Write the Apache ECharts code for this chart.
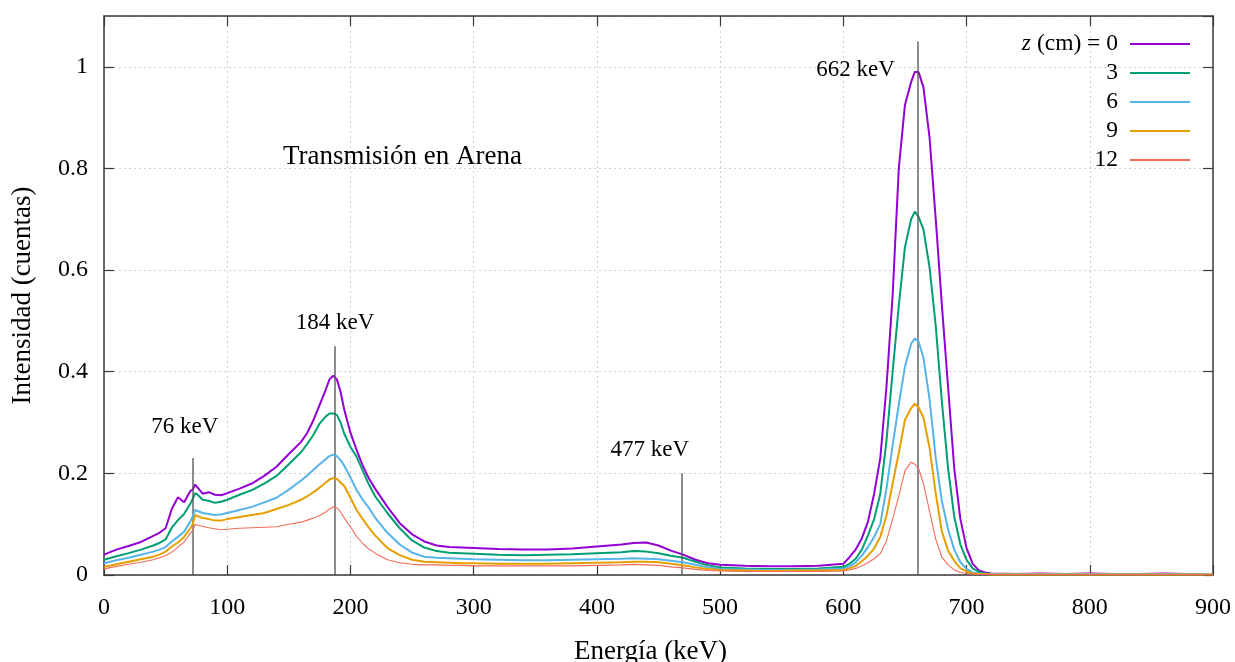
<!DOCTYPE html>
<html>
<head>
<meta charset="utf-8">
<script src="https://cdn.jsdelivr.net/npm/echarts@6/dist/echarts.min.js"></script>
<style>
html,body{margin:0;padding:0;background:#fff;}
#chart{width:1235px;height:662px;}
</style>
</head>
<body>
<div id="chart"></div>
<script>
// ---- data ----
const energies = [0,10,20,30,40,45,50,55,60,65,70,72,74,76,80,85,90,95,100,110,120,130,140,150,160,165,170,175,180,183,186,189,192,195,200,205,210,215,220,230,240,250,260,270,280,290,300,320,340,360,380,400,420,430,440,450,460,470,480,490,500,520,540,560,580,600,605,610,615,620,625,630,635,640,645,650,655,658,661,665,670,675,680,685,690,695,700,705,710,715,720,740,760,780,800,820,840,860,880,900];

const zValues = ['0','3','6','9','12'];

const z0 = [0.040,0.050,0.057,0.065,0.077,0.083,0.092,0.130,0.153,0.143,0.165,0.168,0.178,0.172,0.160,0.163,0.158,0.157,0.161,0.170,0.180,0.195,0.213,0.238,0.262,0.280,0.305,0.335,0.365,0.385,0.392,0.385,0.360,0.325,0.280,0.246,0.215,0.190,0.170,0.134,0.102,0.080,0.066,0.058,0.055,0.054,0.053,0.051,0.050,0.050,0.052,0.056,0.060,0.063,0.064,0.058,0.048,0.040,0.030,0.023,0.020,0.018,0.017,0.017,0.018,0.022,0.035,0.050,0.072,0.105,0.160,0.230,0.370,0.550,0.800,0.925,0.970,0.990,0.990,0.960,0.860,0.700,0.530,0.370,0.210,0.110,0.053,0.022,0.009,0.005,0.003,0.002,0.003,0.002,0.003,0.002,0.002,0.003,0.002,0.002];

const z3 = [0.030,0.037,0.043,0.050,0.058,0.063,0.070,0.093,0.108,0.120,0.140,0.150,0.161,0.158,0.148,0.146,0.142,0.144,0.148,0.158,0.167,0.180,0.195,0.218,0.242,0.258,0.276,0.298,0.312,0.318,0.318,0.315,0.300,0.278,0.252,0.233,0.205,0.178,0.155,0.122,0.092,0.068,0.054,0.047,0.044,0.043,0.042,0.040,0.039,0.040,0.041,0.043,0.045,0.047,0.046,0.043,0.038,0.034,0.026,0.019,0.015,0.013,0.012,0.012,0.013,0.016,0.022,0.032,0.050,0.078,0.110,0.160,0.264,0.400,0.530,0.645,0.700,0.715,0.705,0.680,0.605,0.490,0.340,0.210,0.115,0.060,0.030,0.013,0.006,0.003,0.002,0.002,0.002,0.002,0.002,0.002,0.002,0.002,0.002,0.002];

const z6 = [0.023,0.029,0.034,0.040,0.046,0.050,0.055,0.066,0.075,0.085,0.105,0.115,0.128,0.126,0.122,0.120,0.118,0.119,0.122,0.128,0.134,0.143,0.152,0.168,0.186,0.196,0.207,0.218,0.228,0.234,0.237,0.234,0.226,0.215,0.192,0.167,0.148,0.132,0.113,0.083,0.060,0.044,0.036,0.034,0.033,0.032,0.031,0.030,0.029,0.029,0.030,0.031,0.032,0.033,0.032,0.031,0.028,0.025,0.020,0.015,0.012,0.011,0.010,0.010,0.011,0.013,0.017,0.025,0.038,0.055,0.075,0.100,0.170,0.255,0.335,0.410,0.455,0.465,0.460,0.428,0.345,0.230,0.145,0.090,0.050,0.025,0.012,0.005,0.003,0.002,0.002,0.002,0.002,0.002,0.002,0.002,0.002,0.002,0.002,0.002];

const z9 = [0.016,0.021,0.026,0.031,0.036,0.040,0.046,0.056,0.064,0.075,0.092,0.100,0.118,0.116,0.112,0.110,0.107,0.107,0.110,0.114,0.118,0.122,0.130,0.138,0.148,0.155,0.163,0.172,0.182,0.188,0.191,0.189,0.182,0.175,0.152,0.128,0.110,0.093,0.078,0.053,0.039,0.030,0.026,0.025,0.024,0.023,0.023,0.022,0.022,0.022,0.023,0.024,0.025,0.026,0.026,0.025,0.022,0.019,0.015,0.012,0.010,0.009,0.008,0.009,0.009,0.010,0.013,0.018,0.027,0.038,0.052,0.075,0.117,0.180,0.240,0.305,0.328,0.337,0.330,0.310,0.250,0.160,0.085,0.048,0.028,0.013,0.007,0.003,0.002,0.002,0.001,0.001,0.001,0.001,0.001,0.001,0.001,0.001,0.001,0.001];

const z12 = [0.012,0.017,0.021,0.025,0.030,0.034,0.038,0.045,0.055,0.065,0.082,0.088,0.100,0.098,0.096,0.093,0.091,0.089,0.090,0.092,0.093,0.094,0.095,0.100,0.104,0.108,0.112,0.117,0.124,0.130,0.134,0.132,0.124,0.112,0.095,0.076,0.062,0.051,0.043,0.030,0.024,0.021,0.020,0.020,0.019,0.019,0.018,0.018,0.018,0.018,0.018,0.019,0.020,0.021,0.020,0.019,0.016,0.014,0.011,0.009,0.008,0.007,0.007,0.007,0.007,0.008,0.010,0.013,0.018,0.024,0.032,0.042,0.067,0.110,0.155,0.205,0.222,0.218,0.210,0.180,0.125,0.070,0.035,0.020,0.010,0.005,0.003,0.002,0.001,0.001,0.001,0.001,0.001,0.001,0.001,0.001,0.001,0.001,0.001,0.001];

const seriesValues = [z0, z3, z6, z9, z12];

// reference lines at characteristic energies
const peakLabels = ['76 keV','184 keV','477 keV','662 keV'];
const peakLineE = [72, 187.5, 469, 660];
const peakLineTop = [0.23, 0.45, 0.20, 1.05];
const peakLabelE = [65.5, 187.5, 443, 610];
const peakLabelY = [0.291, 0.496, 0.246, 0.994];

const xTicks = [0,100,200,300,400,500,600,700,800,900];
const yTicks = [0,0.2,0.4,0.6,0.8,1];

const titleText = 'Transmisión en Arena';
const xName = 'Energía (keV)';
const yName = 'Intensidad (cuentas)';

// ---- styling ----
const colors = ['#9400d3','#009e73','#56b4e9','#e69f00','#f26b5b'];
const widths = [2,2,2,2,1.1];
const SERIF = '"Liberation Serif","DejaVu Serif",serif';
const frame = '#3a3a3a';

const chart = echarts.init(document.getElementById('chart'), null, {renderer:'canvas'});

const lineSeries = zValues.map((z, i) => ({
  name: z,
  type: 'line',
  xAxisIndex: 0, yAxisIndex: 0,
  data: energies.map((e, k) => [e, seriesValues[i][k]]),
  showSymbol: false,
  symbol: 'none',
  lineStyle: {color: colors[i], width: widths[i]},
  itemStyle: {color: colors[i]},
  z: 3 + i,
  silent: true
}));

const annotSeries = {
  name: 'annot',
  type: 'scatter',
  xAxisIndex: 0, yAxisIndex: 0,
  symbolSize: 0,
  silent: true,
  z: 10,
  itemStyle: {opacity: 1},
  data: peakLabels.map((t, i) => [peakLabelE[i], peakLabelY[i], t]),
  label: {
    show: true, position: 'inside',
    formatter: p => p.data[2],
    color: '#000', opacity: 1, fontFamily: SERIF, fontSize: 23
  },
  markLine: {
    silent: true,
    symbol: ['none','none'],
    label: {show: false},
    lineStyle: {color: '#555', width: 1.5, type: 'solid', opacity: 0.9},
    data: peakLineE.map((e, i) => [{coord: [e, 0]}, {coord: [e, peakLineTop[i]]}])
  }
};

const axisCommon = {
  type: 'value',
  axisLine: {show: true, onZero: false, lineStyle: {color: frame, width: 1.5}},
  axisTick: {show: true, inside: true, length: 10, lineStyle: {color: frame, width: 1.2}},
};

const option = {
  animation: false,
  backgroundColor: '#fff',
  title: {
    text: titleText, left: 278, top: 138,
    textStyle: {fontFamily: SERIF, fontSize: 27, fontWeight: 'normal', color: '#000'}
  },
  grid: {left: 104, right: 22, top: 16, bottom: 87, containLabel: false, outerBoundsMode: 'none'},
  legend: {
    data: zValues,
    orient: 'vertical',
    right: 40, top: 27,
    align: 'right',
    icon: 'rect',
    itemWidth: 60, itemHeight: 2,
    itemGap: 5,
    selectedMode: false,
    formatter: name => name === '0' ? '{i|z} (cm) = 0' : name,
    textStyle: {
      fontFamily: SERIF, fontSize: 23.5, color: '#000', lineHeight: 24, padding: [0, 7, 0, 0],
      rich: {i: {fontFamily: SERIF, fontSize: 23.5, fontStyle: 'italic', color: '#000', lineHeight: 24}}
    }
  },
  xAxis: [
    Object.assign({}, axisCommon, {
      position: 'bottom', min: 0, max: 900, interval: 100,
      name: xName, nameLocation: 'middle', nameGap: 63,
      nameTextStyle: {fontFamily: SERIF, fontSize: 27, color: '#000', padding: [0, 16, 0, 0]},
      axisLabel: {fontFamily: SERIF, fontSize: 24, color: '#000', margin: 21,
        formatter: v => xTicks.indexOf(v) >= 0 ? String(v) : ''},
      splitLine: {show: true, lineStyle: {color: '#cfcfcf', type: [2, 3], width: 1}}
    }),
    Object.assign({}, axisCommon, {
      position: 'top', min: 0, max: 900, interval: 100,
      axisLabel: {show: false}, splitLine: {show: false}
    })
  ],
  yAxis: [
    Object.assign({}, axisCommon, {
      position: 'left', min: 0, max: 1.1, interval: 0.2,
      name: yName, nameLocation: 'middle', nameGap: 68, nameRotate: 90,
      nameTextStyle: {fontFamily: SERIF, fontSize: 27, color: '#000'},
      axisLabel: {fontFamily: SERIF, fontSize: 24, color: '#000', margin: 16, showMaxLabel: false,
        formatter: v => { const t = yTicks.find(q => Math.abs(q - v) < 1e-9); return t === undefined ? '' : String(t); }},
      splitLine: {show: true, lineStyle: {color: '#cfcfcf', type: [2, 3], width: 1}}
    }),
    Object.assign({}, axisCommon, {
      position: 'right', min: 0, max: 1.1, interval: 0.2,
      axisLabel: {show: false}, splitLine: {show: false}
    })
  ],
  series: lineSeries.concat([annotSeries])
};

chart.setOption(option);
</script>
</body>
</html>
